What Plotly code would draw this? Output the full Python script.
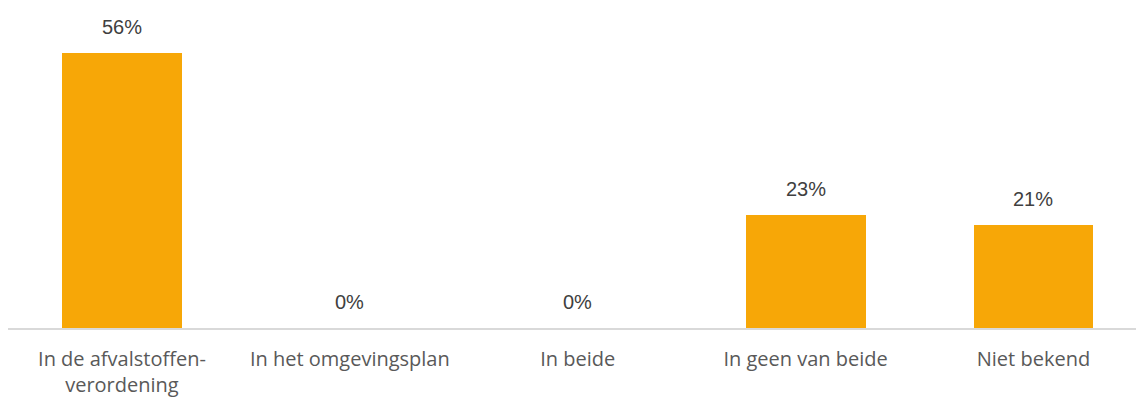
import plotly.graph_objects as go

# Categories and shares (percent)
categories = [
    "In de afvalstoffen-<br>verordening",
    "In het omgevingsplan",
    "In beide",
    "In geen van beide",
    "Niet bekend",
]
values = [56, 0, 0, 23, 21]
value_labels = [f"{v}%" for v in values]

BAR_COLOR = "#F7A707"

fig = go.Figure()
fig.add_trace(
    go.Bar(
        x=list(range(len(categories))),
        y=values,
        width=0.526,
        marker=dict(color=BAR_COLOR, line=dict(width=0)),
        hoverinfo="skip",
    )
)

# Value labels above each bar
for i, (v, lab) in enumerate(zip(values, value_labels)):
    fig.add_annotation(
        x=i,
        y=v,
        text=lab,
        showarrow=False,
        yanchor="bottom",
        yshift=13,
        font=dict(family="Liberation Sans, Arial, sans-serif", size=20, color="#404040"),
    )

fig.update_layout(
    width=1136,
    height=398,
    margin=dict(l=8, r=0, t=33, b=70),
    paper_bgcolor="white",
    plot_bgcolor="white",
    showlegend=False,
    bargap=0,
    xaxis=dict(
        tickmode="array",
        tickvals=list(range(len(categories))),
        ticktext=categories,
        range=[-0.5, 4.45],
        showline=True,
        linecolor="#D9D9D9",
        linewidth=2,
        showgrid=False,
        zeroline=False,
        ticks="",
        ticklabelstandoff=12,
        tickfont=dict(family="Open Sans, sans-serif", size=20, color="#595959"),
        fixedrange=True,
    ),
    yaxis=dict(
        range=[0, 60],
        visible=False,
        showgrid=False,
        zeroline=False,
        fixedrange=True,
    ),
)

fig.write_html("out.html")
